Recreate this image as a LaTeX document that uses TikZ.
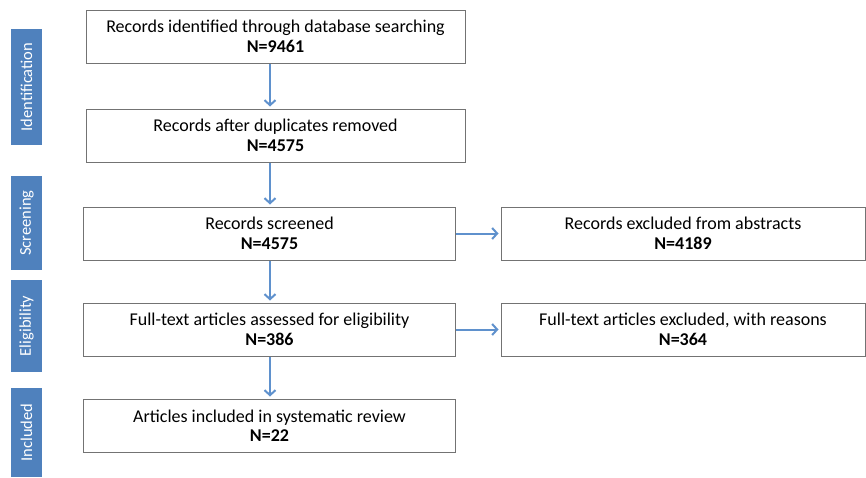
\documentclass[tikz,border=0pt]{standalone}
\usepackage{fontspec}
\setmainfont{Carlito}
\usetikzlibrary{arrows.meta}
\definecolor{barblue}{RGB}{79,129,189}
\definecolor{arrblue}{RGB}{95,145,205}
\definecolor{boxgray}{RGB}{115,115,115}
\tikzset{
  stagebox/.style={draw=boxgray, line width=1pt, fill=white, minimum height=53pt, inner sep=0pt, align=center, font=\fontsize{18}{19.5}\selectfont},
  sidebar/.style={fill=barblue, minimum height=31pt, inner sep=0pt, text=white, font=\fontsize{16.5}{18}\selectfont, rotate=90},
  arr/.style={draw=arrblue, line width=2pt, shorten >=2pt, -{Straight Barb[length=5pt,width=11pt,line width=2pt]}}
}
\begin{document}
\begin{tikzpicture}[x=1pt,y=-1pt]
\useasboundingbox[fill=white] (0,0) rectangle (866,477);
\node[sidebar, minimum width=116pt] (s1) at (26.5,87) {Identification};
\node[sidebar, minimum width=94pt] (s2) at (26.5,223) {Screening};
\node[sidebar, minimum width=92pt] (s3) at (26.5,326) {Eligibility};
\node[sidebar, minimum width=89pt] (s4) at (26.5,432.5) {Included};
\node[stagebox, minimum width=379pt] (b1) at (275.5,36.5) {Records identified through database searching\\\textbf{N=9461}};
\node[stagebox, minimum width=379pt] (b2) at (275.5,135.5) {Records after duplicates removed\\\textbf{N=4575}};
\node[stagebox, minimum width=372pt] (b3) at (269.5,233.5) {Records screened\\\textbf{N=4575}};
\node[stagebox, minimum width=372pt] (b4) at (269.5,329.5) {Full-text articles assessed for eligibility\\\textbf{N=386}};
\node[stagebox, minimum width=372pt] (b5) at (269.5,425.5) {Articles included in systematic review\\\textbf{N=22}};
\node[stagebox, minimum width=364pt] (r1) at (683,233.5) {Records excluded from abstracts\\\textbf{N=4189}};
\node[stagebox, minimum width=364pt] (r2) at (683,329.5) {Full-text articles excluded, with reasons\\\textbf{N=364}};
\coordinate (ax) at (270,0);
\draw[arr] (b1.south -| ax) -- (b2.north -| ax);
\draw[arr] (b2.south -| ax) -- (b3.north -| ax);
\draw[arr] (b3.south -| ax) -- (b4.north -| ax);
\draw[arr] (b4.south -| ax) -- (b5.north -| ax);
\draw[arr] (b3.east) -- (r1.west);
\draw[arr] (b4.east) -- (r2.west);
\end{tikzpicture}
\end{document}
